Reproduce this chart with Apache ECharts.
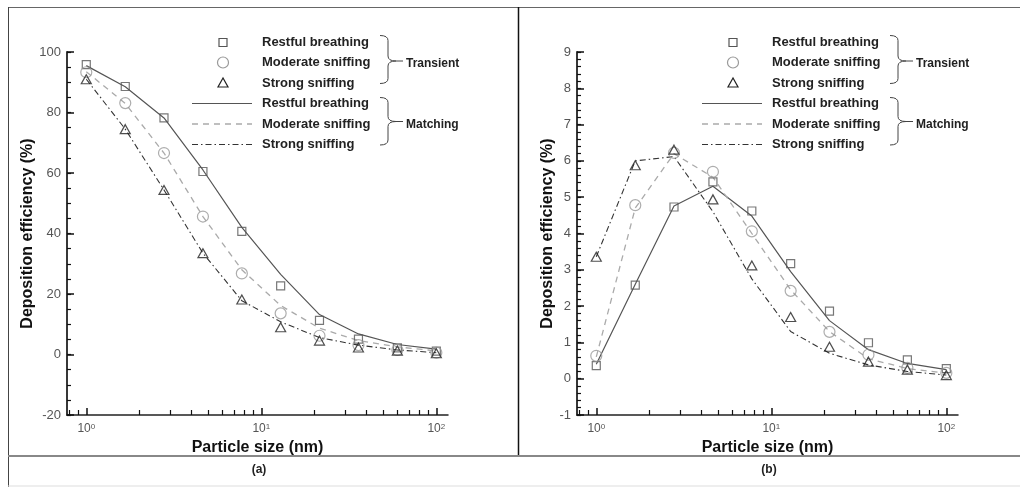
<!DOCTYPE html>
<html><head><meta charset="utf-8">
<script src="https://cdn.jsdelivr.net/npm/echarts@6/dist/echarts.min.js"></script>
<style>html,body{margin:0;padding:0;background:#fff}#c{width:1020px;height:487px}</style>
</head><body><div id="c"></div>
<script>
// ---------- data ----------
const particleSize = [1, 1.67, 2.78, 4.64, 7.74, 12.9, 21.5, 35.9, 59.9, 100];
const xMajorTicks = [1, 10, 100];
const xMinorTicks = [0.8, 0.9, 2, 3, 4, 5, 6, 7, 8, 9, 20, 30, 40, 50, 60, 70, 80, 90];
const seriesNames = ['Restful breathing', 'Moderate sniffing', 'Strong sniffing'];
const groupLabels = ['Transient', 'Matching'];
const panelLabels = ['(a)', '(b)'];
const xTitle = 'Particle size (nm)';
const yTitle = 'Deposition efficiency (%)';

// panel (a)
const transientA_restful  = [95.8, 88.6, 78.2, 60.5, 40.7, 22.7, 11.3, 5.1, 2.2, 1.1];
const transientA_moderate = [93.3, 83.1, 66.6, 45.6, 26.8, 13.6, 6.2, 3.1, 1.5, 0.6];
const transientA_strong   = [91.0, 74.5, 54.4, 33.5, 18.2, 9.0, 4.6, 2.3, 1.3, 0.4];
const matchingA_restful   = [95.5, 88.5, 78.2, 61.0, 42.0, 26.5, 13.2, 6.8, 3.3, 1.8];
const matchingA_moderate  = [93.5, 83.0, 66.6, 45.6, 28.0, 16.2, 8.7, 4.6, 2.5, 1.2];
const matchingA_strong    = [91.0, 74.5, 54.4, 33.5, 17.8, 10.8, 5.6, 3.1, 1.5, 0.6];
const yRangeA = [-20, 100, 20];   // min, max, major step
const yMinorStepA = 5;

// panel (b)
const transientB_restful  = [0.36, 2.58, 4.73, 5.42, 4.62, 3.17, 1.86, 0.99, 0.52, 0.28];
const transientB_moderate = [0.63, 4.78, 6.22, 5.70, 4.06, 2.42, 1.29, 0.66, 0.30, 0.16];
const transientB_strong   = [3.36, 5.88, 6.31, 4.94, 3.12, 1.70, 0.88, 0.47, 0.25, 0.10];
const matchingB_restful   = [0.40, 2.60, 4.76, 5.30, 4.48, 2.95, 1.60, 0.80, 0.42, 0.25];
const matchingB_moderate  = [0.60, 4.70, 6.20, 5.55, 4.00, 2.45, 1.30, 0.55, 0.28, 0.15];
const matchingB_strong    = [3.36, 6.00, 6.12, 4.60, 2.75, 1.30, 0.70, 0.38, 0.20, 0.10];
const yRangeB = [-1, 9, 1];
const yMinorStepB = 0.2;

// ---------- styles ----------
const FONT = '"Liberation Sans", Arial, sans-serif';
const lineStyles = [
  {color: '#555', width: 1.2, type: 'solid'},
  {color: '#aaa', width: 1.3, type: [6, 5]},
  {color: '#333', width: 1.1, type: [6, 3, 1.5, 3]}
];
const markStyles = [
  {symbol: 'rect', size: 8, color: '#555'},
  {symbol: 'circle', size: 11, color: '#999'},
  {symbol: 'triangle', size: [10, 9], color: '#222'}
];
const panels = [
  {transient: [transientA_restful, transientA_moderate, transientA_strong],
   matching: [matchingA_restful, matchingA_moderate, matchingA_strong],
   yRange: yRangeA, minorStep: yMinorStepA, left: 67},
  {transient: [transientB_restful, transientB_moderate, transientB_strong],
   matching: [matchingB_restful, matchingB_moderate, matchingB_strong],
   yRange: yRangeB, minorStep: yMinorStepB, left: 577}
];
const X_MIN = 0.776, X_MAX = 116.6;
const pairs = vals => particleSize.map((x, i) => [x, vals[i]]);

const grids = [], xAxes = [], yAxes = [], series = [], graphics = [];
// main grids 0,1 ; tick grids 2..5 (same rectangles, only for tick marks)
panels.forEach((p) => { grids.push({left: p.left, top: 52, width: 381, height: 363}); });
panels.forEach((p) => {
  grids.push({left: p.left, top: 52, width: 381, height: 363});
  grids.push({left: p.left, top: 52, width: 381, height: 363});
});

panels.forEach((p, gi) => {
  xAxes.push({
    type: 'log', logBase: 10, gridIndex: gi, min: X_MIN, max: X_MAX, position: 'bottom',
    name: xTitle, nameLocation: 'middle', nameGap: 20,
    nameTextStyle: {fontFamily: FONT, fontWeight: 'bold', fontSize: 16, color: '#111'},
    axisLine: {show: true, onZero: false, lineStyle: {color: '#222', width: 1.5}},
    axisTick: {show: false},
    axisLabel: {customValues: xMajorTicks, margin: 8,
      formatter: v => '{b|10}{s|' + Math.round(Math.log10(v)) + '}',
      rich: {b: {fontSize: 12, color: '#555', fontFamily: FONT},
             s: {fontSize: 8, color: '#555', fontFamily: FONT, verticalAlign: 'top'}}},
    splitLine: {show: false}
  });
  yAxes.push({
    type: 'value', gridIndex: gi, min: p.yRange[0], max: p.yRange[1], interval: p.yRange[2],
    name: yTitle, nameLocation: 'middle', nameGap: 21,
    nameTextStyle: {fontFamily: FONT, fontWeight: 'bold', fontSize: 16, color: '#111'},
    axisLine: {show: true, onZero: false, lineStyle: {color: '#222', width: 1.8}},
    axisTick: {show: true, inside: true, length: 7, lineStyle: {color: '#111', width: 1.5}},
    axisLabel: {fontSize: 13, color: '#555', fontFamily: FONT, margin: 6},
    splitLine: {show: false}
  });
});
// tick-only axes (major x ticks grid, minor x/y ticks grid)
panels.forEach((p, gi) => {
  [[xMajorTicks, 7, 1.5], [xMinorTicks, 5, 1.2]].forEach((t, j) => {
    const gIdx = 2 + gi * 2 + j;
    xAxes.push({
      type: 'log', logBase: 10, gridIndex: gIdx, min: X_MIN, max: X_MAX, position: 'bottom',
      axisLine: {show: false, onZero: false},
      axisTick: {show: true, inside: true, length: t[1], customValues: t[0], lineStyle: {color: '#111', width: t[2]}},
      axisLabel: {show: false}, splitLine: {show: false}
    });
    if (j === 0) {
      yAxes.push({type: 'value', gridIndex: gIdx, min: 0, max: 1, show: false});
    } else {
      yAxes.push({
        type: 'value', gridIndex: gIdx, min: p.yRange[0], max: p.yRange[1], interval: p.minorStep,
        position: 'left',
        axisLine: {show: false, onZero: false},
        axisTick: {show: true, inside: true, length: 4, lineStyle: {color: '#111', width: 1.2}},
        axisLabel: {show: false}, splitLine: {show: false}
      });
    }
  });
});

panels.forEach((p, gi) => {
  p.matching.forEach((vals, k) => {
    series.push({type: 'line', xAxisIndex: gi, yAxisIndex: gi, data: pairs(vals),
      showSymbol: false, symbol: 'none', lineStyle: lineStyles[k], z: 2, silent: true});
  });
  p.transient.forEach((vals, k) => {
    const m = markStyles[k];
    series.push({type: 'scatter', xAxisIndex: gi, yAxisIndex: gi, data: pairs(vals),
      symbol: m.symbol, symbolSize: m.size, z: 3,
      itemStyle: {color: 'rgba(255,255,255,0)', borderColor: m.color, borderWidth: 1.2}});
  });

  // ----- legend (custom, with braces) -----
  const dx = gi * 510;
  const symRows = [42.5, 62.5, 83];
  const lineRows = [103.5, 124, 144.5];
  symRows.forEach((y, k) => {
    const c = markStyles[k].color;
    const cx = 223 + dx;
    if (k === 0) graphics.push({type: 'rect', shape: {x: cx - 4, y: y - 4, width: 8, height: 8}, style: {fill: 'none', stroke: c, lineWidth: 1.2}});
    if (k === 1) graphics.push({type: 'circle', shape: {cx: cx, cy: y, r: 5.5}, style: {fill: 'none', stroke: c, lineWidth: 1.2}});
    if (k === 2) graphics.push({type: 'polygon', shape: {points: [[cx, y - 5], [cx - 5, y + 4], [cx + 5, y + 4]]}, style: {fill: 'none', stroke: c, lineWidth: 1.2}});
    graphics.push({type: 'text', style: {text: seriesNames[k], x: 262 + dx, y: y, align: 'left', verticalAlign: 'middle', font: 'bold 13px ' + FONT, fill: '#222'}});
  });
  lineRows.forEach((y, k) => {
    const ls = lineStyles[k];
    graphics.push({type: 'line', shape: {x1: 192 + dx, y1: y, x2: 252 + dx, y2: y},
      style: {stroke: ls.color, lineWidth: ls.width, lineDash: ls.type === 'solid' ? null : ls.type}});
    graphics.push({type: 'text', style: {text: seriesNames[k], x: 262 + dx, y: y, align: 'left', verticalAlign: 'middle', font: 'bold 13px ' + FONT, fill: '#222'}});
  });
  const braces = [{y0: 35.5, y1: 83.5, ym: 61, ty: 64}, {y0: 97.5, y1: 145, ym: 121.5, ty: 125}];
  braces.forEach((b, bi) => {
    const x0 = 380 + dx, x1 = 388 + dx, x2 = 396 + dx, r = 5;
    const st = {stroke: '#444', lineWidth: 1, fill: 'none'};
    graphics.push({type: 'bezierCurve', shape: {x1: x0, y1: b.y0, cpx1: x1, cpy1: b.y0, x2: x1, y2: b.y0 + r}, style: st});
    graphics.push({type: 'line', shape: {x1: x1, y1: b.y0 + r, x2: x1, y2: b.ym - r}, style: st});
    graphics.push({type: 'bezierCurve', shape: {x1: x1, y1: b.ym - r, cpx1: x1, cpy1: b.ym, x2: x2, y2: b.ym}, style: st});
    graphics.push({type: 'bezierCurve', shape: {x1: x2, y1: b.ym, cpx1: x1, cpy1: b.ym, x2: x1, y2: b.ym + r}, style: st});
    graphics.push({type: 'line', shape: {x1: x1, y1: b.ym + r, x2: x1, y2: b.y1 - r}, style: st});
    graphics.push({type: 'bezierCurve', shape: {x1: x1, y1: b.y1 - r, cpx1: x1, cpy1: b.y1, x2: x0, y2: b.y1}, style: st});
    graphics.push({type: 'line', shape: {x1: x2, y1: b.ym, x2: x2 + 7, y2: b.ym}, style: st});
    graphics.push({type: 'text', style: {text: groupLabels[bi], x: 406 + dx, y: b.ty, align: 'left', verticalAlign: 'middle', font: 'bold 12px ' + FONT, fill: '#222'}});
  });
  graphics.push({type: 'text', style: {text: panelLabels[gi], x: 259 + dx, y: 470, align: 'center', verticalAlign: 'middle', font: 'bold 12px ' + FONT, fill: '#222'}});
});

// frame lines
graphics.push({type: 'line', shape: {x1: 8, y1: 7.5, x2: 1020, y2: 7.5}, style: {stroke: '#666', lineWidth: 1}});
graphics.push({type: 'line', shape: {x1: 8.5, y1: 7, x2: 8.5, y2: 487}, style: {stroke: '#444', lineWidth: 1}});
graphics.push({type: 'line', shape: {x1: 518.5, y1: 7, x2: 518.5, y2: 456}, style: {stroke: '#111', lineWidth: 1.5}});
graphics.push({type: 'line', shape: {x1: 8, y1: 456, x2: 1020, y2: 456}, style: {stroke: '#888', lineWidth: 2}});
graphics.push({type: 'line', shape: {x1: 8, y1: 486, x2: 1020, y2: 486}, style: {stroke: '#ddd', lineWidth: 1}});

const chart = echarts.init(document.getElementById('c'), null, {renderer: 'canvas'});
chart.setOption({
  animation: false,
  backgroundColor: '#fff',
  textStyle: {fontFamily: FONT},
  grid: grids, xAxis: xAxes, yAxis: yAxes, series: series,
  graphic: {elements: graphics}
});
</script></body></html>
